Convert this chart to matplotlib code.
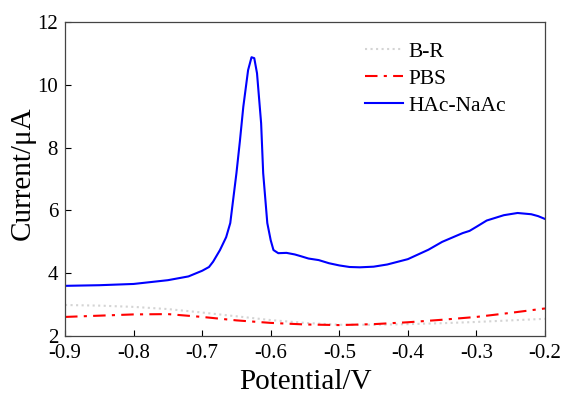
import numpy as np
import matplotlib
matplotlib.use('Agg')
import matplotlib.pyplot as plt

plt.rcParams['font.family'] = ['Liberation Serif', 'DejaVu Serif']
plt.rcParams['mathtext.fontset'] = 'stix'

# HAc-NaAc (blue, solid)
hac_x = [-0.9, -0.85, -0.8, -0.75, -0.72, -0.70, -0.69, -0.684, -0.674, -0.665, -0.659,
         -0.65, -0.645, -0.640, -0.633, -0.628, -0.624, -0.620, -0.614, -0.611, -0.605,
         -0.600, -0.596, -0.589, -0.577, -0.565, -0.557, -0.545, -0.530, -0.515, -0.50,
         -0.485, -0.47, -0.45, -0.43, -0.40, -0.37, -0.35, -0.32, -0.31, -0.30, -0.285,
         -0.26, -0.24, -0.22, -0.21, -0.20]
hac_y = [3.60, 3.62, 3.66, 3.78, 3.90, 4.08, 4.20, 4.37, 4.74, 5.15, 5.60,
         7.19, 8.20, 9.30, 10.47, 10.88, 10.85, 10.37, 8.78, 7.19, 5.60,
         5.05, 4.74, 4.64, 4.65, 4.60, 4.55, 4.47, 4.42, 4.32, 4.25,
         4.20, 4.19, 4.21, 4.28, 4.45, 4.75, 5.00, 5.28, 5.35, 5.48, 5.68,
         5.85, 5.92, 5.88, 5.82, 5.73]

# PBS (red, dash-dot)
pbs_x = [-0.9, -0.85, -0.8, -0.75, -0.7, -0.65, -0.6, -0.55, -0.5, -0.45, -0.4,
         -0.35, -0.3, -0.25, -0.2]
pbs_y = [2.61, 2.65, 2.69, 2.70, 2.61, 2.50, 2.42, 2.37, 2.35, 2.38, 2.44,
         2.52, 2.61, 2.74, 2.88]

# B-R (light grey, dotted)
br_x = [-0.9, -0.85, -0.8, -0.75, -0.7, -0.65, -0.6, -0.55, -0.5, -0.45, -0.4,
        -0.35, -0.3, -0.25, -0.2]
br_y = [2.99, 2.97, 2.93, 2.86, 2.75, 2.63, 2.51, 2.42, 2.36, 2.36, 2.38,
        2.41, 2.45, 2.50, 2.55]

fig = plt.figure(figsize=(5.63, 3.94), dpi=100)
ax = fig.add_axes([0.1155, 0.147, 0.8525, 0.797])

ax.plot(br_x, br_y, color='#d4d4d4', linestyle=':', linewidth=1.5, label='B-R')
ax.plot(pbs_x, pbs_y, color='red', linestyle=(0, (6, 3, 1.5, 3)), linewidth=1.5, label='PBS')
ax.plot(hac_x, hac_y, color='blue', linestyle='-', linewidth=1.5, label='HAc-NaAc')

ax.set_xlim(-0.9, -0.2)
ax.set_ylim(2, 12)
ax.set_xticks([-0.9, -0.8, -0.7, -0.6, -0.5, -0.4, -0.3, -0.2])
ax.set_xticklabels(['-0.9', '-0.8', '-0.7', '-0.6', '-0.5', '-0.4', '-0.3', '-0.2'])
ax.set_yticks([2, 4, 6, 8, 10, 12])
ax.tick_params(direction='in', labelsize=15, length=4, width=0.8, pad=5)
ax.tick_params(axis='x', pad=6)
for s in ax.spines.values():
    s.set_color('#444444')
    s.set_linewidth(0.9)

ax.set_xlabel('Potential/V', fontsize=21, labelpad=4)
ax.set_ylabel('Current/\u03bcA', fontsize=21)
ax.yaxis.set_label_coords(-0.062, 0.52)

ax.legend(loc='upper left', bbox_to_anchor=(0.584, 1.0), frameon=False, fontsize=15.5,
          handlelength=1.8, handletextpad=0.25, labelspacing=0.33)

fig.savefig('out.png', dpi=100)
